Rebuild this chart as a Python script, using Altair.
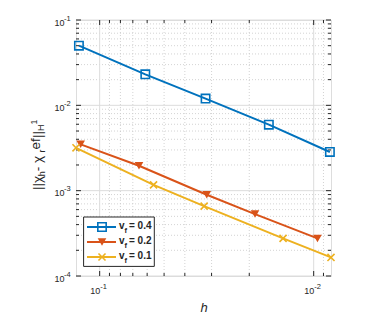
import altair as alt
import pandas as pd

# ---- data ----
series = ["0.4", "0.2", "0.1"]
colors = ["#0072BD", "#D95319", "#EDB120"]

h_04 = [0.125, 0.0612, 0.0320, 0.0162, 0.0084]
err_04 = [0.050, 0.0231, 0.0120, 0.00593, 0.00284]
h_02 = [0.1227, 0.0655, 0.0316, 0.0188, 0.0096]
err_02 = [0.00349, 0.00196, 0.000895, 0.000532, 0.000276]
h_01 = [0.129, 0.056, 0.0325, 0.0139, 0.0083]
err_01 = [0.00318, 0.00117, 0.000659, 0.000276, 0.000165]

x_major = [0.1, 0.01]
x_exp = ["-1", "-2"]
x_minor = [0.09, 0.08, 0.07, 0.06, 0.05, 0.04, 0.03, 0.02, 0.009]
y_major = [1e-4, 1e-3, 1e-2, 1e-1]
y_exp = ["-4", "-3", "-2", "-1"]
y_minor = [m * 10.0 ** e for e in (-4, -3, -2) for m in range(2, 10)]

W, H = 255, 256
FONT = "Liberation Sans"
AX = "#262626"

xs = alt.Scale(type="log", domain=[0.0083, 0.129], reverse=True)
ys = alt.Scale(type="log", domain=[1e-4, 1e-1])

rows = []
for s, hh, ee in [("0.4", h_04, err_04), ("0.2", h_02, err_02), ("0.1", h_01, err_01)]:
    for a, b in zip(hh, ee):
        rows.append({"series": s, "h": a, "err": b})
df = pd.DataFrame(rows)

xmaj = pd.DataFrame({"h": x_major, "e": x_exp})
xmin = pd.DataFrame({"h": x_minor})
ymaj = pd.DataFrame({"err": y_major, "e": y_exp})
ymin = pd.DataFrame({"err": y_minor})

x_axis = alt.Axis(values=x_major, labelExpr="'10'", grid=False, domain=False,
                  ticks=False, labelFont=FONT, labelFontSize=9, labelColor=AX, labelPadding=10,
                  labelAlign="right", labelBaseline="top",
                  title="h", titleFont=FONT, titleFontSize=13, titleFontStyle="italic",
                  titleFontWeight="normal", titleColor=AX, titlePadding=6)
y_axis = alt.Axis(values=y_major, labelExpr="'10'", grid=False, domain=False,
                  ticks=False, labelFont=FONT, labelFontSize=9, labelColor=AX, labelPadding=12,
                  labelBaseline="middle", labelOffset=2, title=None)

X = alt.X("h:Q", scale=xs, axis=x_axis)
Y = alt.Y("err:Q", scale=ys, axis=y_axis)

layers = []
# minor grid
layers.append(alt.Chart(xmin).mark_rule(color="#c8c8c8", strokeDash=[1, 2], strokeWidth=0.8).encode(x=X))
layers.append(alt.Chart(ymin).mark_rule(color="#c8c8c8", strokeDash=[1, 2], strokeWidth=0.8).encode(y=Y))
# major grid
layers.append(alt.Chart(xmaj).mark_rule(color="#dcdcdc", strokeWidth=1).encode(x=X))
layers.append(alt.Chart(ymaj).mark_rule(color="#dcdcdc", strokeWidth=1).encode(y=Y))
# ticks (inward)
for d, L in [(xmaj, 5), (xmin, 3)]:
    layers.append(alt.Chart(d).mark_rule(color=AX).encode(x=X, y=alt.value(H), y2=alt.value(H - L)))
    layers.append(alt.Chart(d).mark_rule(color=AX).encode(x=X, y=alt.value(0), y2=alt.value(L)))
for d, L in [(ymaj, 5), (ymin, 3)]:
    layers.append(alt.Chart(d).mark_rule(color=AX).encode(y=Y, x=alt.value(0), x2=alt.value(L)))
    layers.append(alt.Chart(d).mark_rule(color=AX).encode(y=Y, x=alt.value(W), x2=alt.value(W - L)))

# tick-label exponents
layers.append(alt.Chart(xmaj).mark_text(font=FONT, fontSize=7.5, color=AX, align="left",
                                        baseline="middle", dx=0.5).encode(
    x=X, y=alt.value(H + 10.5), text="e:N"))
layers.append(alt.Chart(ymaj).mark_text(font=FONT, fontSize=7.5, color=AX, align="left",
                                        baseline="middle", dy=-1.5).encode(
    y=Y, x=alt.value(-12), text="e:N"))

# data lines
color_scale = alt.Scale(domain=series, range=colors)
layers.append(alt.Chart(df).mark_line(strokeWidth=2, clip=False).encode(
    x=X, y=Y,
    color=alt.Color("series:N", scale=color_scale, legend=None),
    detail="series:N",
))
XPATH = "M-1,-1L1,1M-1,1L1,-1"
marker_specs = {
    "0.4": dict(shape="square", filled=False, size=70, strokeWidth=1.6),
    "0.2": dict(shape="triangle-down", filled=True, size=75, strokeWidth=1),
    "0.1": dict(shape=XPATH, filled=False, size=50, strokeWidth=1.6),
}
for s, c in zip(series, colors):
    spec = marker_specs[s]
    layers.append(alt.Chart(df[df.series == s]).mark_point(color=c, opacity=1, clip=False, **spec).encode(
        x=X, y=Y))

one = pd.DataFrame({"a": [0]})

# y-axis title built from pieces (rotated text, reads bottom to top)
title_pieces = [
    # text, size, x (plot px), y start (plot px)
    ("||χ", 13.5, -38.5, 170),
    ("h", 9, -34.5, 156.2),
    (" - χ", 13.5, -38.5, 151.2),
    ("r", 9, -34.5, 132.4),
    ("ef", 13.5, -40.5, 129.4),
    ("||", 13.5, -38.5, 118.1),
    ("H", 9, -35, 111.1),
    ("1", 8.5, -42, 104.6),
]
for t, fs, tx, ty in title_pieces:
    layers.append(alt.Chart(one).mark_text(text=t, font=FONT, fontSize=fs, color=AX, angle=270,
                                            align="left", baseline="middle").encode(
        x=alt.value(tx), y=alt.value(ty)))

# legend (drawn manually)
LX0, LX1, LY0, LY1 = 7.6, 78.3, 197, 246.4
layers.append(alt.Chart(one).mark_rect(fill="white", stroke=AX, strokeWidth=1).encode(
    x=alt.value(LX0), x2=alt.value(LX1), y=alt.value(LY0), y2=alt.value(LY1)))
row_y = [207, 222, 237]
for s, c, ry in zip(series, colors, row_y):
    layers.append(alt.Chart(one).mark_rule(color=c, strokeWidth=2).encode(
        x=alt.value(11), x2=alt.value(40), y=alt.value(ry)))
    spec = marker_specs[s]
    layers.append(alt.Chart(one).mark_point(color=c, opacity=1, **spec).encode(
        x=alt.value(26), y=alt.value(ry)))
    layers.append(alt.Chart(one).mark_text(text="v", font=FONT, fontSize=10, fontWeight="bold",
                                            color=AX, align="left", baseline="middle").encode(
        x=alt.value(43), y=alt.value(ry - 1)))
    layers.append(alt.Chart(one).mark_text(text="f", font=FONT, fontSize=7.5, fontWeight="bold",
                                            color=AX, align="left", baseline="middle").encode(
        x=alt.value(48.5), y=alt.value(ry + 3.5)))
    layers.append(alt.Chart(one).mark_text(text=f"= {s}", font=FONT, fontSize=10, fontWeight="bold",
                                            color=AX, align="left", baseline="middle").encode(
        x=alt.value(53), y=alt.value(ry - 1)))

chart = alt.layer(*layers).properties(
    width=W, height=H,
    autosize=alt.AutoSizeParams(type="none"),
    padding={"left": 68, "top": 12, "right": 30, "bottom": 40},
).configure_view(stroke=AX, strokeWidth=1).configure(background="white")

chart.save("out.html", embed_options={"renderer": "svg", "actions": False})
